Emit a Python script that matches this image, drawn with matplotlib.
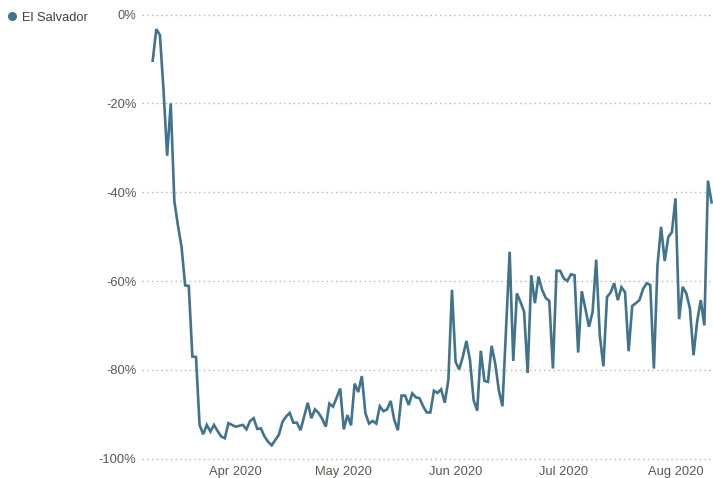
import matplotlib
matplotlib.use('Agg')
import matplotlib.pyplot as plt
import matplotlib.dates as mdates
from matplotlib.lines import Line2D
from matplotlib.ticker import FuncFormatter
import pandas as pd

# Daily change vs. baseline (%), El Salvador, from 9 Mar 2020
country = 'El Salvador'
start_date = '2020-03-09'
change = [
    -10.4, -3.3, -4.6, -17.0, -31.8, -20.0, -42.0, -47.5, -52.3, -61.0,
    -61.1, -77.0, -77.1, -92.4, -94.5, -92.4, -93.9, -92.4, -93.8, -95.0,
    -95.4, -92.0, -92.4, -92.8, -92.6, -92.4, -93.4, -91.5, -90.9, -93.3,
    -93.2, -95.0, -96.2, -97.0, -95.8, -94.6, -91.7, -90.5, -89.7, -91.9,
    -91.9, -93.6, -90.5, -87.4, -90.9, -88.9, -89.7, -91.0, -92.8, -87.6,
    -88.3, -86.3, -84.2, -93.4, -90.2, -92.5, -83.1, -85.0, -81.4, -89.8,
    -92.1, -91.5, -92.1, -88.2, -89.3, -88.9, -87.0, -91.3, -93.6, -85.8,
    -85.8, -87.9, -85.3, -86.2, -86.4, -88.2, -89.6, -89.6, -84.7, -85.2,
    -84.4, -87.4, -82.3, -62.0, -78.2, -79.9, -77.1, -73.5, -77.8, -86.8,
    -89.2, -75.7, -82.5, -82.7, -74.6, -78.6, -84.6, -88.2, -70.8, -53.4,
    -78.0, -62.8, -64.7, -66.9, -80.7, -58.7, -65.0, -59.0, -62.0, -63.8,
    -64.5, -79.7, -57.7, -57.7, -59.4, -60.0, -58.5, -58.7, -76.1, -62.3,
    -66.2, -70.3, -67.0, -55.2, -72.2, -79.2, -63.6, -62.6, -60.5, -64.3,
    -61.4, -62.5, -75.8, -65.6, -65.0, -64.3, -61.8, -60.5, -60.9, -79.7,
    -56.5, -47.8, -55.5, -50.1, -49.0, -41.4, -68.6, -61.3, -62.8, -66.2,
    -76.7, -69.1, -64.3, -70.0, -37.4, -42.3,
]
dates = pd.date_range(start_date, periods=len(change), freq='D')
y_ticks = [0, -20, -40, -60, -80, -100]
month_ticks = pd.to_datetime(['2020-04-01', '2020-05-01', '2020-06-01',
                              '2020-07-01', '2020-08-01'])

line_color = '#41738C'
tick_color = '#5A5856'
plt.rcParams['font.family'] = ['Liberation Sans', 'DejaVu Sans']

W, H = 713, 478
fig = plt.figure(figsize=(W / 100, H / 100), dpi=100)
ax = fig.add_axes([142 / W, 1 - 463.1 / H, 571 / W, (463.1 - 10.1) / H])

ax.plot(dates, change, color=line_color, linewidth=1.9, solid_joinstyle='miter',
        label=country)

d0 = mdates.date2num(dates[0])
ax.set_xlim(d0 - 2.97, d0 + 155.4)
ax.set_ylim(-101, 1)

ax.set_yticks(y_ticks)
ax.yaxis.set_major_formatter(FuncFormatter(lambda v, p: f'{int(v)}%'))
ax.set_xticks(month_ticks)
ax.xaxis.set_major_formatter(mdates.DateFormatter('%b %Y'))

ax.tick_params(axis='both', length=0, labelsize=9.3, labelcolor=tick_color)
ax.tick_params(axis='y', pad=4)
ax.tick_params(axis='x', pad=2)

ax.grid(axis='y', color='#B8B8B8', linestyle=(0, (1, 2.4)), linewidth=1)
ax.grid(axis='x', visible=False)
for s in ax.spines.values():
    s.set_visible(False)

handle = Line2D([], [], color=line_color, marker='o', linestyle='None', markersize=5.5)
fig.legend(handles=[handle], labels=[country], loc='center left',
           bbox_to_anchor=(7 / W, 1 - 18 / H), frameon=False, borderpad=0,
           borderaxespad=0, handlelength=0.8, handletextpad=0.35,
           fontsize=9.3, labelcolor='#404040')

fig.savefig('out.png', dpi=100)
